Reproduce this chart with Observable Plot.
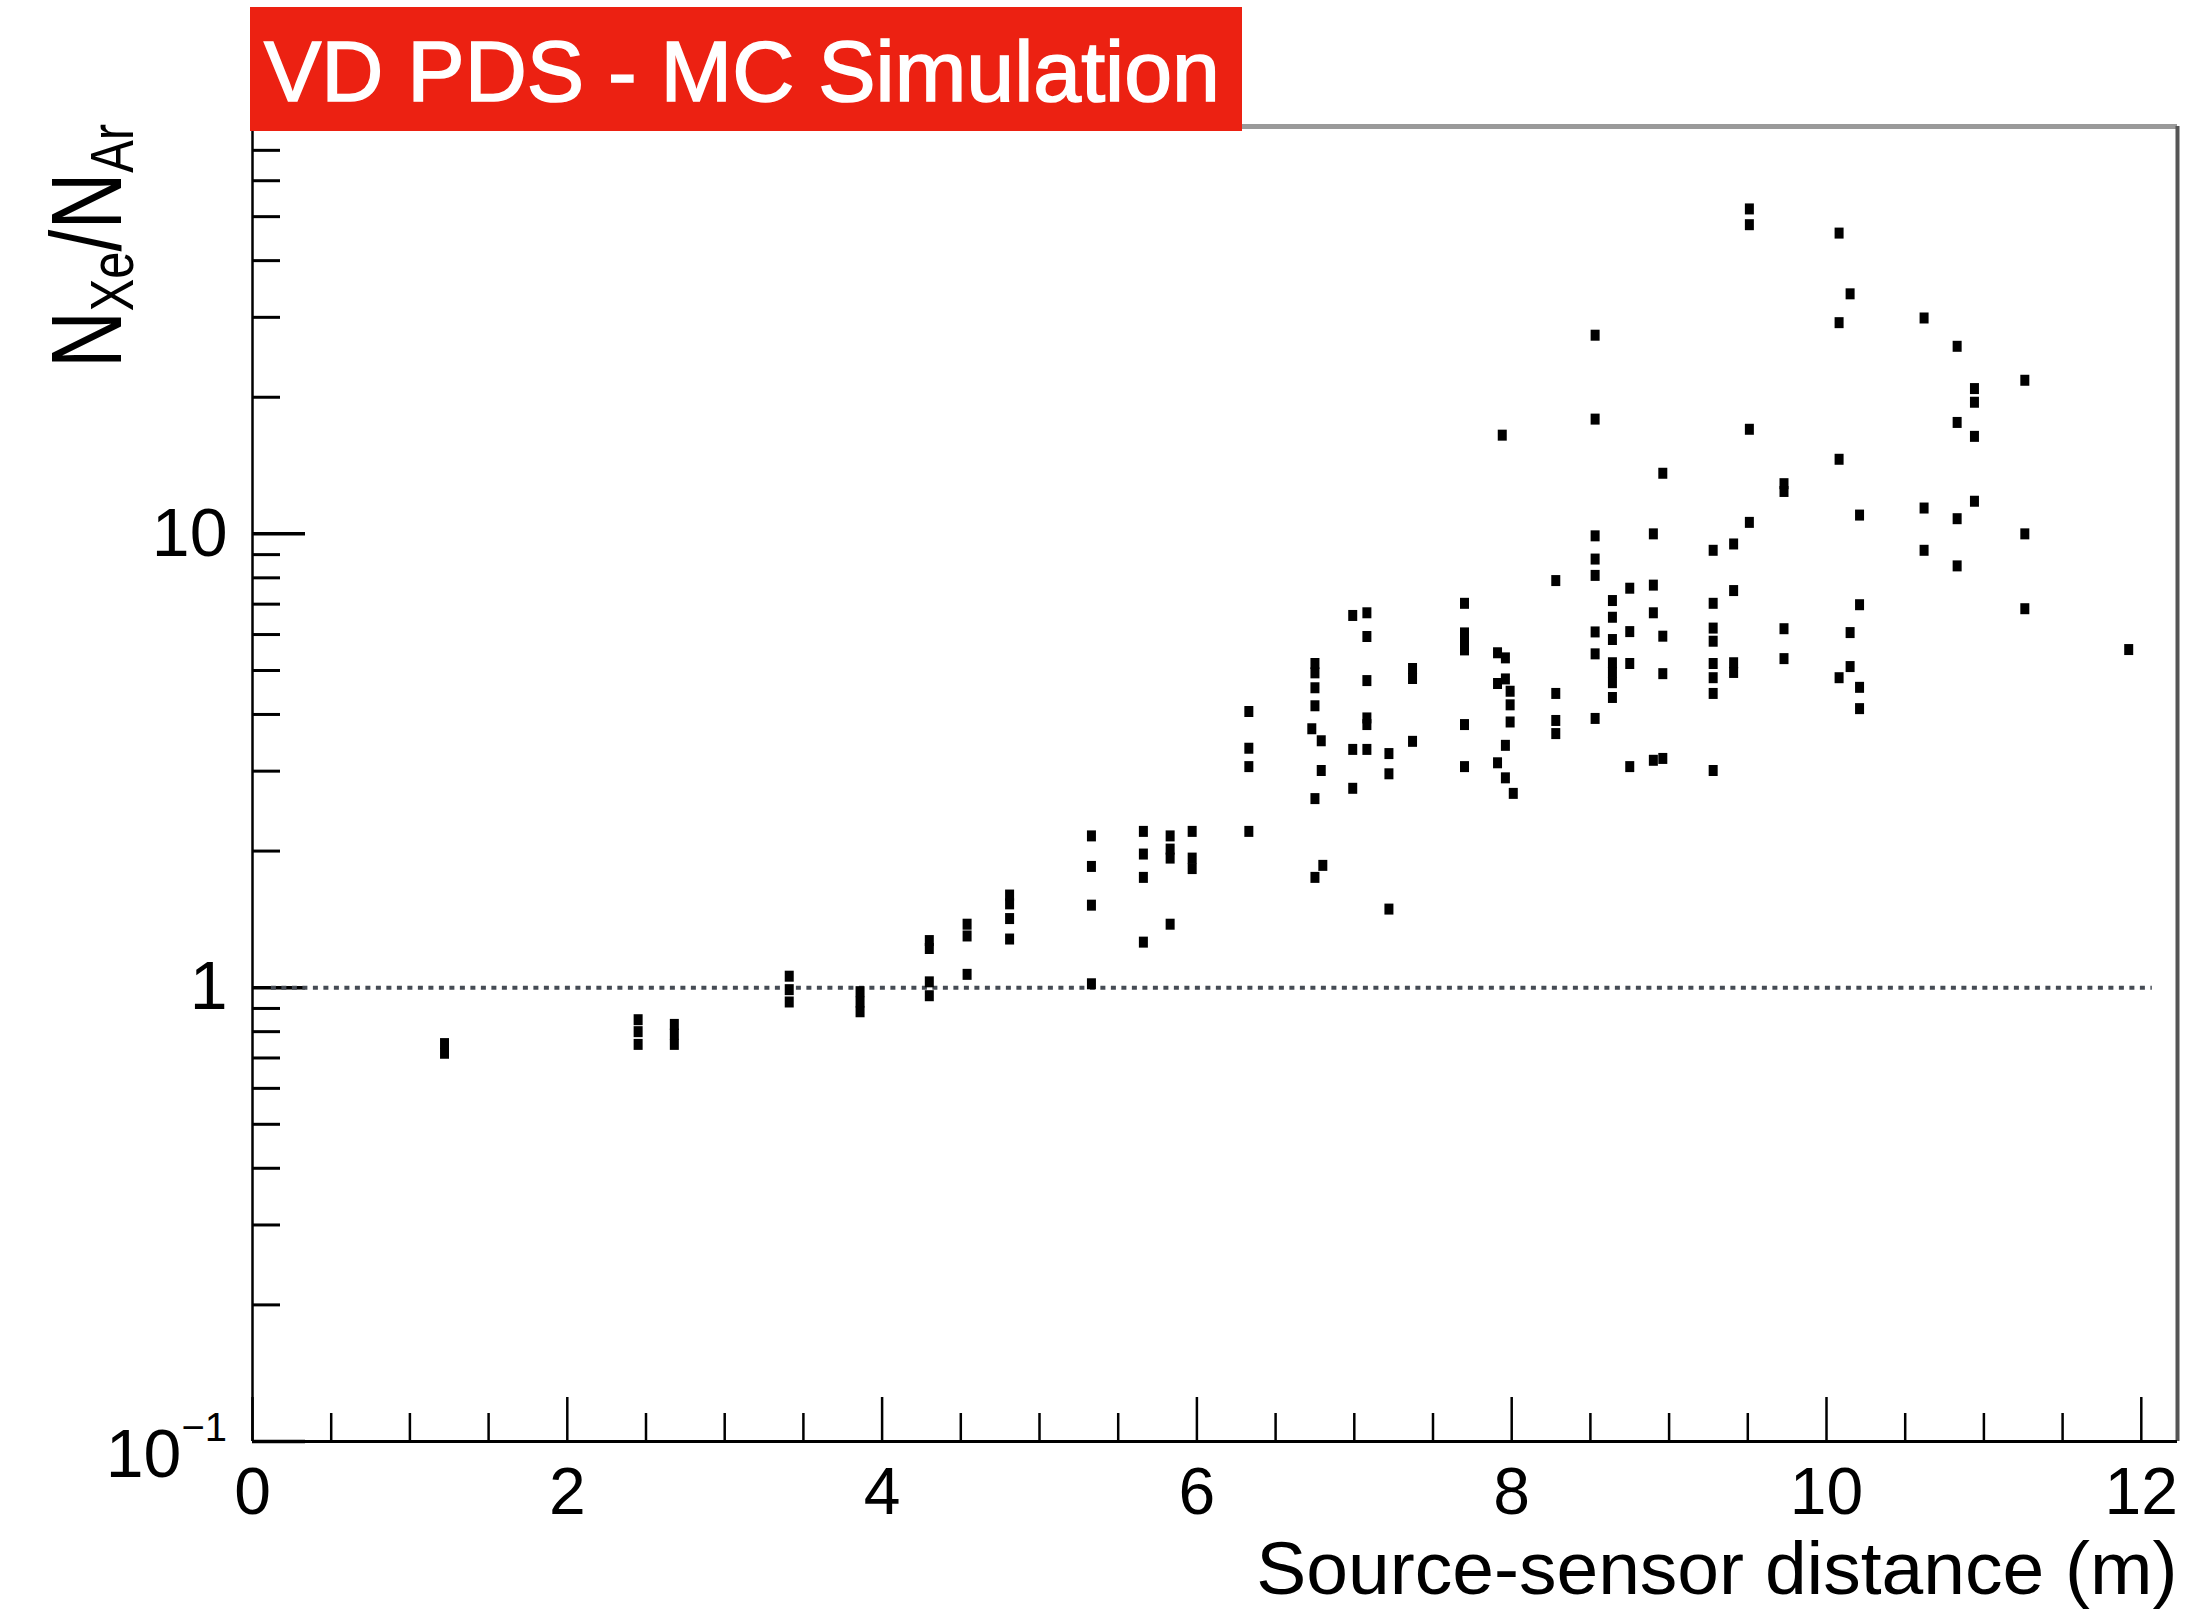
<!DOCTYPE html>
<html>
<head>
<meta charset="utf-8">
<script src="https://cdn.jsdelivr.net/npm/d3@7"></script>
<script src="https://cdn.jsdelivr.net/npm/@observablehq/plot@0.6"></script>
<style>
  html, body { margin: 0; padding: 0; background: #fff; }
  #wrap { position: relative; width: 2201px; height: 1615px; overflow: hidden; }
  #title { position: absolute; left: 250px; top: 7px; width: 992px; height: 124px; background: #ec2112; z-index: 2; }
  #title span { position: absolute; left: 14px; top: 21px; font-family: "Liberation Sans", Arial, Helvetica, sans-serif; font-size: 86px; line-height: 86px; color: #fff; white-space: nowrap; -webkit-text-stroke: 1.6px #fff; }
</style>
</head>
<body>
<div id="wrap"></div>
<script>
// ---- data ----
const distance = [
  1.22, 1.22,
  2.45, 2.45, 2.45,
  2.68, 2.68, 2.68,
  3.41, 3.41, 3.41,
  3.86, 3.86, 3.86,
  4.30, 4.30, 4.30, 4.30,
  4.54, 4.54, 4.54,
  4.81, 4.81, 4.81, 4.81,
  5.33, 5.33, 5.33, 5.33,
  5.66, 5.66, 5.66, 5.66,
  5.83, 5.83, 5.83, 5.83,
  5.97, 5.97, 5.97,
  6.33, 6.33, 6.33, 6.33,
  6.75, 6.75, 6.75, 6.75, 6.75, 6.75,
  6.73, 6.79, 6.79, 6.80,
  6.99, 6.99, 6.99,
  7.08, 7.08, 7.08, 7.08, 7.08, 7.08,
  7.22, 7.22, 7.22,
  7.37, 7.37, 7.37,
  7.70, 7.70, 7.70, 7.70, 7.70, 7.70,
  7.91, 7.91, 7.91,
  7.94,
  7.96, 7.96, 7.96, 7.96,
  7.99, 7.99, 7.99,
  8.01,
  8.28, 8.28, 8.28, 8.28,
  8.53, 8.53, 8.53, 8.53, 8.53, 8.53, 8.53, 8.53,
  8.64, 8.64, 8.64, 8.64, 8.64, 8.64, 8.64,
  8.75, 8.75, 8.75, 8.75,
  8.90, 8.90, 8.90, 8.90,
  8.96, 8.96, 8.96, 8.96,
  9.28, 9.28, 9.28, 9.28, 9.28, 9.28, 9.28, 9.28,
  9.41, 9.41, 9.41, 9.41,
  9.51, 9.51, 9.51, 9.51,
  9.73, 9.73, 9.73, 9.73,
  10.08, 10.08, 10.08, 10.08,
  10.15, 10.15, 10.15,
  10.21, 10.21, 10.21, 10.21,
  10.62, 10.62, 10.62,
  10.83, 10.83, 10.83, 10.83,
  10.94, 10.94, 10.94, 10.94,
  11.26, 11.26, 11.26,
  11.92
];
const ratio = [
  0.753, 0.717,
  0.85, 0.80, 0.75,
  0.83, 0.79, 0.75,
  1.06, 0.99, 0.93,
  0.98, 0.93, 0.885,
  1.27, 1.22, 1.03, 0.96,
  1.38, 1.30, 1.07,
  1.60, 1.53, 1.42, 1.28,
  2.16, 1.85, 1.52, 1.02,
  2.21, 1.97, 1.75, 1.26,
  2.16, 2.02, 1.93, 1.38,
  2.21, 1.93, 1.83,
  4.06, 3.37, 3.07, 2.21,
  5.18, 4.94, 4.58, 4.18, 2.61, 1.75,
  3.72, 3.50, 3.01, 1.86,
  6.61, 3.35, 2.75,
  6.70, 5.94, 4.75, 3.93, 3.80, 3.35,
  3.28, 2.96, 1.49,
  5.05, 4.80, 3.49,
  7.03, 6.05, 5.80, 5.55, 3.80, 3.07,
  5.47, 4.68, 3.13,
  16.5,
  5.33, 4.79, 3.42, 2.90,
  4.50, 4.20, 3.85,
  2.68,
  7.89, 4.45, 3.88, 3.63,
  27.4, 17.9, 9.9, 8.8, 8.1, 6.08, 5.44, 3.92,
  7.13, 6.55, 5.85, 5.20, 4.95, 4.70, 4.36,
  7.59, 6.09, 5.18, 3.07,
  10.0, 7.71, 6.70, 3.17,
  13.6, 5.95, 4.92, 3.20,
  9.2, 7.03, 6.2, 5.8, 5.18, 4.82, 4.45, 3.01,
  9.5, 7.5, 5.2, 4.95,
  52, 48, 17.0, 10.6,
  12.9, 12.4, 6.18, 5.31,
  46.0, 29.2, 14.6, 4.82,
  33.8, 6.06, 5.10,
  11.0, 6.98, 4.59, 4.12,
  29.9, 11.4, 9.2,
  25.9, 17.6, 10.8, 8.5,
  20.9, 19.5, 16.4, 11.8,
  21.8, 10.0, 6.84,
  5.56
];

const xMajorTicks = [0, 2, 4, 6, 8, 10, 12];
const xMinorTicks = [0.5, 1, 1.5, 2.5, 3, 3.5, 4.5, 5, 5.5, 6.5, 7, 7.5, 8.5, 9, 9.5, 10.5, 11, 11.5];
const yMajorTicks = [0.1, 1, 10];
const yLabelTicks = [1, 10];
const yMinorTicks = [0.2, 0.3, 0.4, 0.5, 0.6, 0.7, 0.8, 0.9, 2, 3, 4, 5, 6, 7, 8, 9, 20, 30, 40, 50, 60, 70];
const referenceLine = [{y: 1, x1: 0.12, x2: 12.07}];
const xDomain = [0, 12.23];
const yDomain = [0.1, 79];
const titleText = "VD PDS - MC Simulation";
const xTitle = "Source-sensor distance (m)";

// ---- layout ----
const W = 2201, H = 1615;
const M = {top: 126, right: 24, bottom: 174, left: 252};
const frameW = W - M.left - M.right;
const frameH = H - M.top - M.bottom;
const FONT = '"Liberation Sans", Arial, Helvetica, sans-serif';

const points = distance.map((d, i) => ({distance: d, ratio: ratio[i]}));
const marker = {draw(ctx) { ctx.moveTo(-4.5, -5.5); ctx.lineTo(4.5, -5.5); ctx.lineTo(4.5, 5.5); ctx.lineTo(-4.5, 5.5); ctx.closePath(); }};

const chart = Plot.plot({
  width: W, height: H,
  marginTop: M.top, marginRight: M.right, marginBottom: M.bottom, marginLeft: M.left,
  style: {background: "#fff", fontFamily: FONT, color: "#000", overflow: "visible"},
  x: {domain: xDomain, axis: null},
  y: {type: "log", domain: yDomain, axis: null},
  marks: [
    Plot.tickX(xMinorTicks, {x: d => d, insetTop: frameH - 28, stroke: "#000", strokeWidth: 2.5}),
    Plot.tickX(xMajorTicks, {x: d => d, insetTop: frameH - 44, stroke: "#000", strokeWidth: 2.5}),
    Plot.tickY(yMinorTicks, {y: d => d, insetRight: frameW - 28, stroke: "#000", strokeWidth: 3}),
    Plot.tickY(yMajorTicks, {y: d => d, insetRight: frameW - 53, stroke: "#000", strokeWidth: 3.5}),
    Plot.ruleY(referenceLine, {y: "y", x1: "x1", x2: "x2", stroke: "#454b54", strokeWidth: 4, strokeDasharray: "5,5.5"}),
    Plot.dot(points, {x: "distance", y: "ratio", symbol: marker, fill: "#000", stroke: "none"}),
    Plot.ruleY([yDomain[1]], {stroke: "#9a9a9a", strokeWidth: 5}),
    Plot.ruleX([xDomain[1]], {stroke: "#555", strokeWidth: 4}),
    Plot.ruleX([xDomain[0]], {stroke: "#000", strokeWidth: 2.5}),
    Plot.ruleY([yDomain[0]], {stroke: "#000", strokeWidth: 3}),
    Plot.axisX(xMajorTicks, {tickSize: 0, tickPadding: 26, fontSize: 66, label: null, tickFormat: d => String(d)}),
    Plot.axisY(yLabelTicks, {tickSize: 0, tickPadding: 25, fontSize: 68, label: null, tickFormat: d => String(d)}),
    Plot.text([xTitle], {text: d => d, frameAnchor: "bottom-right", textAnchor: "end", lineAnchor: "bottom", dy: 152, fontSize: 75, fill: "#000"})
  ]
});

const wrap = document.getElementById("wrap");
wrap.appendChild(chart);

// 10^-1 label with superscript
const svg = d3.select(chart.tagName.toLowerCase() === "svg" ? chart : chart.querySelector("svg"));
const yS = chart.scale("y");
const xS = chart.scale("x");
const y01 = yS.apply(yMajorTicks[0]);
const xLeft = xS.apply(xDomain[0]);
const lab = svg.append("text")
  .attr("x", xLeft - 25).attr("y", y01 + 36)
  .attr("text-anchor", "end").attr("font-family", FONT).attr("font-size", 68).attr("fill", "#000");
lab.append("tspan").text("10");
lab.append("tspan").attr("font-size", 40).attr("dy", -36).text("\u22121");

// y axis title N_Xe / N_Ar
const yt = svg.append("text")
  .attr("transform", `translate(121, ${yS.apply(yDomain[0]) - 1073}) rotate(-90)`)
  .attr("text-anchor", "start").attr("font-family", FONT).attr("font-size", 100).attr("fill", "#000")
  .attr("textLength", 244).attr("lengthAdjust", "spacingAndGlyphs");
yt.append("tspan").text("N");
yt.append("tspan").attr("font-size", 62).attr("dy", 12).text("Xe");
yt.append("tspan").attr("dy", -12).text("/N");
yt.append("tspan").attr("font-size", 62).attr("dy", 12).text("Ar");

// title box
const tb = document.createElement("div");
tb.id = "title";
const sp = document.createElement("span");
sp.textContent = titleText;
tb.appendChild(sp);
wrap.appendChild(tb);
</script>
</body>
</html>
